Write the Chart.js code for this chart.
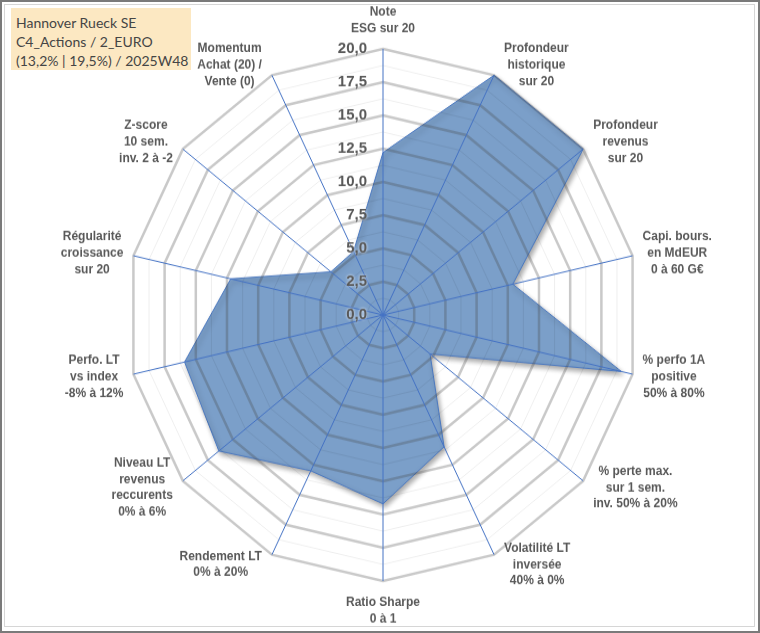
<!DOCTYPE html>
<html>
<head>
<meta charset="utf-8">
<script src="https://cdn.jsdelivr.net/npm/chart.js@4.4.1/dist/chart.umd.min.js"></script>
<style>
  html, body { margin: 0; padding: 0; background: #ffffff; }
  #frame { position: absolute; left: 0; top: 0; width: 760px; height: 633px; box-sizing: border-box; border: 2px solid #7a7a7a; }
  #inner { position: absolute; left: 4px; top: 4px; width: 751px; height: 623px; box-sizing: border-box; border: 1px solid #d6d6d6; }
  #wrap { position: absolute; left: 0; top: 0; width: 760px; height: 609px; transform: scaleY(1.0394); transform-origin: 0 0; }
  #title { position: absolute; left: 11px; top: 8px; width: 180px; height: 62px; background: #fce8c2; box-sizing: border-box; padding: 5px 0 0 5px; font-family: Lato, "Open Sans", sans-serif; font-size: 14px; line-height: 19px; color: #454545; white-space: nowrap; }
</style>
</head>
<body>
<div id="frame"></div>
<div id="inner"></div>
<div id="wrap"><canvas id="c"></canvas></div>
<div id="title"></div>
<script>
const titleLines = ['Hannover Rueck SE', 'C4_Actions / 2_EURO', '(13,2% | 19,5%) / 2025W48'];

const categories = [
  ['Note', 'ESG sur 20'],
  ['Profondeur', 'historique', 'sur 20'],
  ['Profondeur', 'revenus', 'sur 20'],
  ['Capi. bours.', 'en MdEUR', '0 à 60 G€'],
  ['% perfo 1A', 'positive', '50% à 80%'],
  ['% perte max.', 'sur 1 sem.', 'inv. 50% à 20%'],
  ['Volatilité LT', 'inversée', '40% à 0%'],
  ['Ratio Sharpe', '0 à 1'],
  ['Rendement LT', '0% à 20%'],
  ['Niveau LT', 'revenus', 'reccurents', '0% à 6%'],
  ['Perfo. LT', 'vs index', '-8% à 12%'],
  ['Régularité', 'croissance', 'sur 20'],
  ['Z-score', '10 sem.', 'inv. 2 à -2'],
  ['Momentum', 'Achat (20) /', 'Vente (0)']
];

const scores = [12.2, 20, 20, 10.4, 19.1, 4.7, 11.0, 14.2, 13.0, 16.4, 15.9, 12.2, 5.2, 5.3];

const tickValues = [0, 2.5, 5, 7.5, 10, 12.5, 15, 17.5, 20];
const tickLabels = ['0,0', '2,5', '5,0', '7,5', '10,0', '12,5', '15,0', '17,5', '20,0'];

document.getElementById('title').innerHTML = titleLines.map(t => '<div>' + t.replace(/&/g,'&amp;').replace(/</g,'&lt;') + '</div>').join('');

const isMajor = v => Math.abs(v / 2.5 - Math.round(v / 2.5)) < 1e-6;

const shadowPlugin = {
  id: 'shadowPlugin',
  beforeDatasetsDraw(chart) {
    const ctx = chart.ctx;
    ctx.save();
    ctx.shadowColor = 'rgba(0,0,0,0.35)';
    ctx.shadowBlur = 5;
    ctx.shadowOffsetX = 2;
    ctx.shadowOffsetY = 3;
  },
  afterDatasetsDraw(chart) {
    chart.ctx.restore();
  }
};

const labelPlugin = {
  id: 'labelPlugin',
  afterDraw(chart) {
    const s = chart.scales.r;
    const ctx = chart.ctx;
    ctx.save();
    ctx.font = 'bold 15px "Liberation Sans", Arial, sans-serif';
    ctx.textAlign = 'right';
    ctx.textBaseline = 'middle';
    ctx.shadowColor = 'rgba(255,255,255,0.9)';
    ctx.shadowBlur = 3;
    ctx.fillStyle = '#595959';
    tickValues.forEach((v, i) => {
      const y = s.yCenter - s.getDistanceFromCenterForValue(v);
      ctx.fillText(tickLabels[i], s.xCenter - 16, y);
    });
    ctx.shadowBlur = 0;
    ctx.shadowColor = 'rgba(0,0,0,0)';
    ctx.font = 'bold 12px "Liberation Sans", Arial, sans-serif';
    ctx.textAlign = 'center';
    ctx.fillStyle = '#595959';
    const n = categories.length;
    const lh = 15.9;
    categories.forEach((lines, i) => {
      const p = s.getPointPosition(i, s.drawingArea);
      const ang = i * 2 * Math.PI / n;
      const sn = Math.sin(ang), cs = Math.cos(ang);
      const w = Math.max(...lines.map(l => ctx.measureText(l).width));
      const h = lines.length * lh;
      let cx, cy;
      if (Math.abs(sn) < 0.01) {
        cx = p.x;
        cy = cs > 0 ? p.y - 11 - h / 2 : p.y + 12.5 + h / 2;
      } else {
        cx = p.x + Math.sign(sn) * (10 + w / 2);
        cy = p.y - 10.6 * cs;
      }
      lines.forEach((l, k) => ctx.fillText(l, cx, cy - h / 2 + lh * (k + 0.5)));
    });
    ctx.restore();
  }
};

new Chart(document.getElementById('c'), {
  type: 'radar',
  data: {
    labels: categories,
    datasets: [{
      data: scores,
      backgroundColor: 'rgb(123,159,201)',
      borderColor: '#4a78c0',
      borderWidth: 1,
      pointRadius: 0,
      pointHoverRadius: 0,
      fill: true
    }]
  },
  options: {
    responsive: true,
    maintainAspectRatio: false,
    animation: false,
    layout: { padding: { left: 127, right: 121, top: 47, bottom: 50 } },
    plugins: { legend: { display: false }, tooltip: { enabled: false }, title: { display: false } },
    scales: {
      r: {
        min: 0,
        max: 20,
        ticks: { display: false, stepSize: 1.25 },
        pointLabels: { display: false },
        grid: {
          z: 1,
          color: c => isMajor(c.tick.value) ? 'rgba(70,70,70,0.29)' : 'rgba(0,0,0,0.07)',
          lineWidth: c => isMajor(c.tick.value) ? 2.5 : 1
        },
        angleLines: { color: '#4472C4', lineWidth: 1 }
      }
    }
  },
  plugins: [shadowPlugin, labelPlugin]
});
</script>
</body>
</html>
